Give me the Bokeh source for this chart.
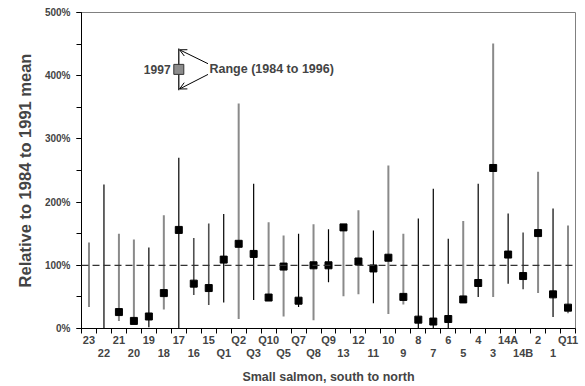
import numpy as np
from bokeh.plotting import figure
from bokeh.models import (ColumnDataSource, FixedTicker, LinearAxis, Range1d, Span,
                          Arrow, OpenHead, Label, PrintfTickFormatter)
from bokeh.embed import file_html
from bokeh.resources import INLINE

categories = ["23", "22", "21", "20", "19", "18", "17", "16", "15", "Q1", "Q2", "Q3",
              "Q10", "Q5", "Q7", "Q8", "Q9", "13", "12", "11", "10", "9", "8", "7", "6",
              "5", "4", "3", "14A", "14B", "2", "1", "Q11"]
range_min = [34, 0, 12, 8, 2, 30, 0, 53, 37, 41, 15, 45, 48, 19, 34, 13, 73, 51, 54, 40,
             23, 38, 0, 0, 0, 44, 50, 50, 71, 62, 56, 18, 24]
range_max = [136, 228, 150, 141, 128, 179, 270, 143, 166, 181, 356, 229, 168, 147, 150, 165,
             157, 160, 187, 155, 258, 150, 174, 221, 142, 170, 229, 451, 182, 152, 248, 190, 163]
value_1997 = [np.nan, np.nan, 26, 12, 19, 56, 156, 71, 64, 109, 134, 118, 49, 98, 44, 100,
              100, 160, 106, 95, 112, 50, 14, 11, 15, 46, 72, 254, 117, 83, 151, 54, 33]
line_shade = ["g", "k", "g", "g", "k", "g", "k", "m", "m", "k", "g", "k", "g", "g", "k", "g",
              "k", "g", "g", "k", "g", "g", "k", "k", "k", "g", "k", "g", "k", "m", "g", "k", "g"]
y_ticks = [0, 100, 200, 300, 400, 500]

FONT = "Liberation Sans"
GRAY = "#808080"
shade_color = {"k": "#000000", "m": "#505050", "g": "#8a8a8a"}
shade_width = {"k": 1.2, "m": 1.6, "g": 2.0}

xs = list(range(len(categories)))
src = ColumnDataSource(dict(x=xs, lo=range_min, hi=range_max, v=value_1997,
                            c=[shade_color[s] for s in line_shade],
                            w=[shade_width[s] for s in line_shade]))

p = figure(width=585, height=386, x_range=Range1d(-0.5, len(categories) - 0.5),
           y_range=Range1d(0, 500), x_axis_type=None, output_backend="svg",
           toolbar_location=None, min_border_left=81, min_border_top=12,
           min_border_right=10, min_border_bottom=0)
p.grid.visible = False
p.outline_line_color = GRAY
p.outline_line_width = 1
p.background_fill_color = "white"
p.border_fill_color = "white"

# Y axis
ya = p.yaxis[0]
ya.ticker = FixedTicker(ticks=y_ticks, minor_ticks=list(range(0, 501, 50)))
ya.formatter = PrintfTickFormatter(format="%d%%")
ya.axis_label = "Relative to 1984 to 1991 mean"
ya.axis_label_text_font = FONT
ya.axis_label_text_font_style = "bold"
ya.axis_label_text_font_size = "16.5px"
ya.axis_label_standoff = 8
ya.major_label_text_font = FONT
ya.major_label_text_font_style = "bold"
ya.major_label_text_font_size = "10px"
ya.major_tick_out = 5
ya.major_tick_in = 0
ya.minor_tick_out = 5
ya.minor_tick_in = 0
ya.major_label_standoff = 6
ya.axis_line_color = "black"

# X axes: two rows of labels
even_pos = [i for i in xs if i % 2 == 0]
odd_pos = [i for i in xs if i % 2 == 1]
bounds = [i - 0.5 for i in range(len(categories) + 1)]
labels = {i: categories[i] for i in xs}

xa1 = LinearAxis(ticker=FixedTicker(ticks=even_pos, minor_ticks=bounds),
                 major_label_overrides=labels)
xa1.major_tick_line_color = None
xa1.major_tick_out = 0
xa1.major_tick_in = 0
xa1.minor_tick_out = 5
xa1.minor_tick_in = 0
xa1.major_label_standoff = 0
xa1.major_label_text_font = FONT
xa1.major_label_text_font_style = "bold"
xa1.major_label_text_font_size = "11px"
xa1.axis_line_color = "black"
p.add_layout(xa1, "below")

xa2 = LinearAxis(ticker=FixedTicker(ticks=odd_pos), major_label_overrides=labels)
xa2.axis_line_color = None
xa2.major_tick_line_color = None
xa2.minor_tick_line_color = None
xa2.major_tick_out = 0
xa2.major_tick_in = 0
xa2.major_label_standoff = -2
xa2.major_label_text_font = FONT
xa2.major_label_text_font_style = "bold"
xa2.major_label_text_font_size = "11px"
xa2.axis_label = "Small salmon, south to north"
xa2.axis_label_text_font = FONT
xa2.axis_label_text_font_style = "bold"
xa2.axis_label_text_font_size = "12.5px"
xa2.axis_label_standoff = 8
p.add_layout(xa2, "below")

# reference line at 100%
p.add_layout(Span(location=100, dimension="width", line_color="#333333",
                  line_dash="7 4", line_width=1.3))

# ranges and 1997 values
p.segment(x0="x", y0="lo", x1="x", y1="hi", line_color="c", line_width="w", source=src)
p.scatter(x="x", y="v", marker="square", size=7, fill_color="black",
          line_color="black", source=src)

# legend sketch
lx = 6
p.segment(x0=[lx], y0=[377], x1=[lx], y1=[443], line_color="black", line_width=1.2)
p.scatter(x=[lx], y=[410], marker="square", size=10, fill_color="#8c8c8c",
          line_color="#333333", line_width=1)
p.add_layout(Label(x=lx - 0.55, y=410, text="1997", text_align="right",
                   text_baseline="middle", text_font=FONT, text_font_size="12px",
                   text_font_style="bold"))
p.add_layout(Label(x=lx + 2.05, y=410, text="Range (1984 to 1996)", text_align="left",
                   text_baseline="middle", text_font=FONT, text_font_size="12.5px",
                   text_font_style="bold"))
p.add_layout(Arrow(end=OpenHead(size=7, line_width=1), x_start=lx + 1.95, y_start=419,
                   x_end=lx + 0.05, y_end=441, line_width=1))
p.add_layout(Arrow(end=OpenHead(size=7, line_width=1), x_start=lx + 1.95, y_start=402,
                   x_end=lx + 0.05, y_end=379, line_width=1))

open("out.html", "w").write(file_html(p, INLINE))
